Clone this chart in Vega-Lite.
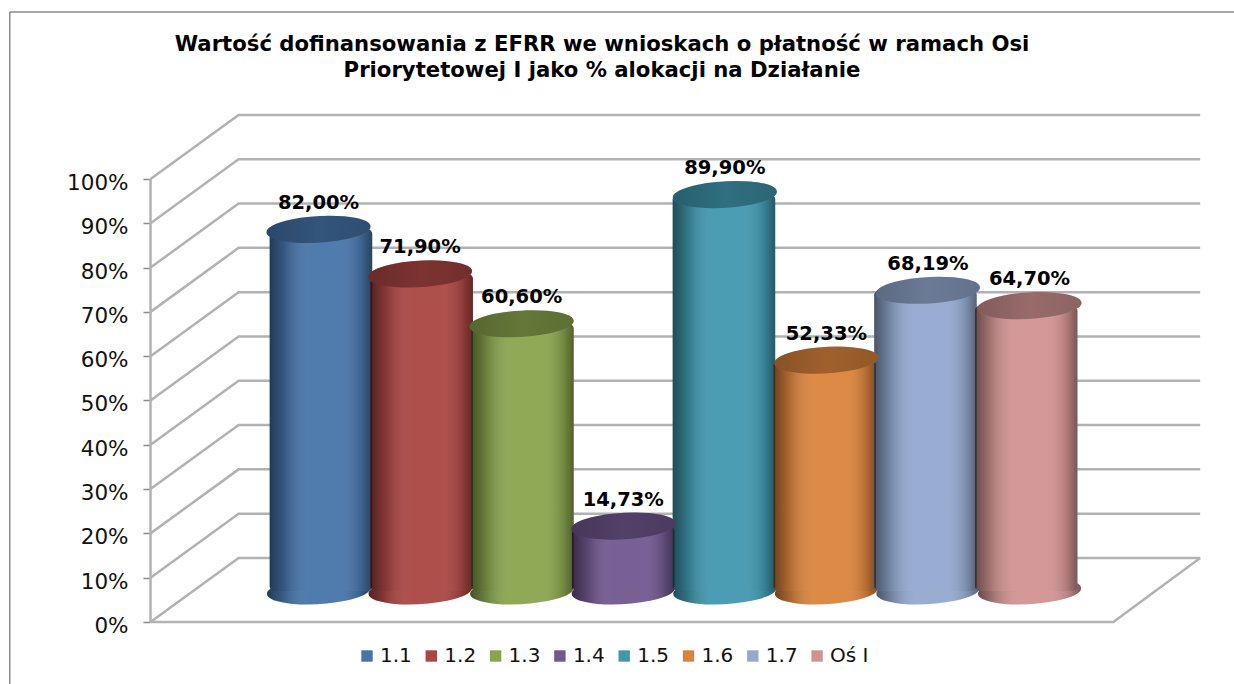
{
"$schema":"https://vega.github.io/schema/vega-lite/v6.json",
"width":1234,"height":684,"padding":0,"autosize":{"type":"none"},"background":"white",
"title":{"text":["Wartość dofinansowania z EFRR we wnioskach o płatność w ramach Osi","Priorytetowej I jako % alokacji na Działanie"],"font":"DejaVu Sans","fontSize":21.2,"fontWeight":"bold","color":"#000000","anchor":"middle","frame":"group","orient":"top","offset":-81,"dx":-15,"lineHeight":26},
"config":{"view":{"stroke":null},"axis":{"grid":false}},
"datasets":{
"bars":[{"name":"1.1","slot":1,"value":82.0,"label":"82,00%"},{"name":"1.2","slot":2,"value":71.9,"label":"71,90%"},{"name":"1.3","slot":3,"value":60.6,"label":"60,60%"},{"name":"1.4","slot":4,"value":14.73,"label":"14,73%"},{"name":"1.5","slot":5,"value":89.9,"label":"89,90%"},{"name":"1.6","slot":6,"value":52.33,"label":"52,33%"},{"name":"1.7","slot":7,"value":68.19,"label":"68,19%"},{"name":"Oś I","slot":8,"value":64.7,"label":"64,70%"}],
"walls":[
{"line":"L0","across":-0.654,"level":0},{"line":"L0","across":0.213,"level":14.45},{"line":"L0","across":9.68,"level":14.45},
{"line":"L10","across":-0.654,"level":10},{"line":"L10","across":0.213,"level":24.45},{"line":"L10","across":9.68,"level":24.45},
{"line":"L20","across":-0.654,"level":20},{"line":"L20","across":0.213,"level":34.45},{"line":"L20","across":9.68,"level":34.45},
{"line":"L30","across":-0.654,"level":30},{"line":"L30","across":0.213,"level":44.45},{"line":"L30","across":9.68,"level":44.45},
{"line":"L40","across":-0.654,"level":40},{"line":"L40","across":0.213,"level":54.45},{"line":"L40","across":9.68,"level":54.45},
{"line":"L50","across":-0.654,"level":50},{"line":"L50","across":0.213,"level":64.45},{"line":"L50","across":9.68,"level":64.45},
{"line":"L60","across":-0.654,"level":60},{"line":"L60","across":0.213,"level":74.45},{"line":"L60","across":9.68,"level":74.45},
{"line":"L70","across":-0.654,"level":70},{"line":"L70","across":0.213,"level":84.45},{"line":"L70","across":9.68,"level":84.45},
{"line":"L80","across":-0.654,"level":80},{"line":"L80","across":0.213,"level":94.45},{"line":"L80","across":9.68,"level":94.45},
{"line":"L90","across":-0.654,"level":90},{"line":"L90","across":0.213,"level":104.45},{"line":"L90","across":9.68,"level":104.45},
{"line":"L100","across":-0.654,"level":100},{"line":"L100","across":0.213,"level":114.45},{"line":"L100","across":9.68,"level":114.45},
{"line":"floor","across":-0.654,"level":0},{"line":"floor","across":8.825,"level":0},{"line":"floor","across":9.68,"level":14.45},
{"line":"axis","across":-0.654,"level":0},{"line":"axis","across":-0.654,"level":100}
],
"frame":[
{"line":"left","across":-2.04,"level":-14},{"line":"left","across":-2.04,"level":137.7},
{"line":"top","across":-2.04,"level":137.7},{"line":"top","across":10.02,"level":137.7}
]
},
"resolve":{"scale":{"x":"independent","y":"independent"}},
"layer":[
{"data":{"name":"frame"},"mark":{"type":"line","color":"#8a8a8a","strokeWidth":1.5},
"encoding":{"x":{"field":"across","type":"quantitative","scale":{"domain":[-2.136,10.013]},"axis":null},"y":{"field":"level","type":"quantitative","scale":{"domain":[-14,140.4]},"axis":null},"detail":{"field":"line"}}},
{"data":{"name":"walls"},"mark":{"type":"line","color":"#b2b2b2","strokeWidth":2.5},
"encoding":{"x":{"field":"across","type":"quantitative","scale":{"domain":[-2.136,10.013]},"axis":null},
"y":{"field":"level","type":"quantitative","scale":{"domain":[-14,140.4]},
"axis":{"orient":"left","offset":-150,"values":[0,10,20,30,40,50,60,70,80,90,100],"domain":false,"title":null,"tickColor":"#8a8a8a","tickWidth":1.5,"tickSize":7,"labelPadding":15,"labelOffset":4.5,"labelFont":"DejaVu Sans","labelFontSize":21.5,"labelColor":"#111111","labelExpr":"datum.value + '%'","labelOverlap":false}},
"detail":{"field":"line"}}},
{"data":{"name":"bars"},"mark":{"type":"point","shape":"M-1,0.06A1.002,0.25 -3.4 1,1 1,-0.06A1.002,0.25 -3.4 1,1 -1,0.06Z","size":10609,"filled":true,"opacity":1},
"encoding":{"x":{"field":"slot","type":"quantitative","axis":null,"scale":{"domain":[-2.136,10.013]}},
"y":{"datum":0,"type":"quantitative","scale":{"domain":[-21.09,134.01]},"axis":null},
"color":{"field":"name","type":"nominal","sort":null,"scale":{"domain":["1.1","1.2","1.3","1.4","1.5","1.6","1.7","Oś I"],"range":["#4674A9","#AA4643","#89A54E","#71588F","#4198AF","#DB843D","#93A9CF","#D19392"]},
"legend":{"orient":"none","legendX":357,"legendY":646,"direction":"horizontal","columns":8,"title":null,"symbolType":"square","symbolSize":130,"symbolStrokeWidth":0,"labelFont":"DejaVu Sans","labelFontSize":20,"labelColor":"#111111","labelOffset":3,"columnPadding":9.3,"gridAlign":"none"}}}},
{"data":{"name":"bars"},"mark":{"type":"point","shape":"M-1,0.06A1.002,0.25 -3.4 1,1 1,-0.06A1.002,0.25 -3.4 1,1 -1,0.06Z","size":10609,"filled":true,"opacity":1,"stroke":null,
"fill":{"gradient":"linear","x1":0,"y1":0,"x2":1,"y2":0,"stops":[{"offset":0,"color":"rgba(0,0,0,0.5)"},{"offset":0.15,"color":"rgba(0,0,0,0.22)"},{"offset":0.4,"color":"rgba(255,255,255,0.05)"},{"offset":0.7,"color":"rgba(255,255,255,0.05)"},{"offset":0.9,"color":"rgba(0,0,0,0.17)"},{"offset":1,"color":"rgba(0,0,0,0.42)"}]}},
"encoding":{"x":{"field":"slot","type":"quantitative","axis":null,"scale":{"domain":[-2.136,10.013]}},
"y":{"datum":0,"type":"quantitative","scale":{"domain":[-21.09,134.01]},"axis":null}}},
{"data":{"name":"bars"},"mark":{"type":"bar","width":102.5,"cornerRadius":5},
"encoding":{"x":{"field":"slot","type":"quantitative","axis":null,"scale":{"domain":[-2.136,10.013]}},
"y":{"field":"value","type":"quantitative","stack":null,"scale":{"domain":[-21.09,134.01]},"axis":null},"y2":{"datum":0},
"color":{"field":"name","type":"nominal","sort":null,"scale":{"domain":["1.1","1.2","1.3","1.4","1.5","1.6","1.7","Oś I"],"range":["#4674A9","#AA4643","#89A54E","#71588F","#4198AF","#DB843D","#93A9CF","#D19392"]},
"legend":{"orient":"none","legendX":357,"legendY":646,"direction":"horizontal","columns":8,"title":null,"symbolType":"square","symbolSize":130,"symbolStrokeWidth":0,"labelFont":"DejaVu Sans","labelFontSize":20,"labelColor":"#111111","labelOffset":3,"columnPadding":9.3,"gridAlign":"none"}}}},
{"data":{"name":"bars"},"mark":{"type":"bar","width":102.5,"cornerRadius":5,
"fill":{"gradient":"linear","x1":0,"y1":0,"x2":1,"y2":0,"stops":[{"offset":0,"color":"rgba(0,0,0,0.5)"},{"offset":0.15,"color":"rgba(0,0,0,0.22)"},{"offset":0.4,"color":"rgba(255,255,255,0.05)"},{"offset":0.7,"color":"rgba(255,255,255,0.05)"},{"offset":0.9,"color":"rgba(0,0,0,0.17)"},{"offset":1,"color":"rgba(0,0,0,0.42)"}]}},
"encoding":{"x":{"field":"slot","type":"quantitative","axis":null,"scale":{"domain":[-2.136,10.013]}},
"y":{"field":"value","type":"quantitative","stack":null,"scale":{"domain":[-21.09,134.01]},"axis":null},"y2":{"datum":0}}},
{"data":{"name":"bars"},"mark":{"type":"point","shape":"M-1,0.06A1.002,0.25 -3.4 1,1 1,-0.06A1.002,0.25 -3.4 1,1 -1,0.06Z","size":10816,"filled":true,"opacity":1},
"encoding":{"x":{"field":"slot","type":"quantitative","axis":null,"scale":{"domain":[-2.136,10.013]}},
"y":{"field":"value","type":"quantitative","stack":null,"scale":{"domain":[-21.09,134.01]},"axis":null},
"color":{"field":"name","type":"nominal","sort":null,"scale":{"domain":["1.1","1.2","1.3","1.4","1.5","1.6","1.7","Oś I"],"range":["#4674A9","#AA4643","#89A54E","#71588F","#4198AF","#DB843D","#93A9CF","#D19392"]},
"legend":{"orient":"none","legendX":357,"legendY":646,"direction":"horizontal","columns":8,"title":null,"symbolType":"square","symbolSize":130,"symbolStrokeWidth":0,"labelFont":"DejaVu Sans","labelFontSize":20,"labelColor":"#111111","labelOffset":3,"columnPadding":9.3,"gridAlign":"none"}}}},
{"data":{"name":"bars"},"mark":{"type":"point","shape":"M-1,0.06A1.002,0.25 -3.4 1,1 1,-0.06A1.002,0.25 -3.4 1,1 -1,0.06Z","size":10816,"filled":true,"opacity":1,"stroke":null,
"fill":{"gradient":"linear","x1":0,"y1":0,"x2":1,"y2":0,"stops":[{"offset":0,"color":"rgba(0,0,0,0.38)"},{"offset":0.5,"color":"rgba(0,0,0,0.27)"},{"offset":1,"color":"rgba(0,0,0,0.33)"}]}},
"encoding":{"x":{"field":"slot","type":"quantitative","axis":null,"scale":{"domain":[-2.136,10.013]}},
"y":{"field":"value","type":"quantitative","stack":null,"scale":{"domain":[-21.09,134.01]},"axis":null}}},
{"data":{"name":"bars"},"mark":{"type":"text","font":"DejaVu Sans","fontSize":19.5,"fontWeight":"bold","color":"#000000","dy":-26.5,"baseline":"middle"},
"encoding":{"x":{"field":"slot","type":"quantitative","axis":null,"scale":{"domain":[-2.136,10.013]}},
"y":{"field":"value","type":"quantitative","stack":null,"scale":{"domain":[-21.09,134.01]},"axis":null},
"text":{"field":"label","type":"nominal"}}}
]
}
